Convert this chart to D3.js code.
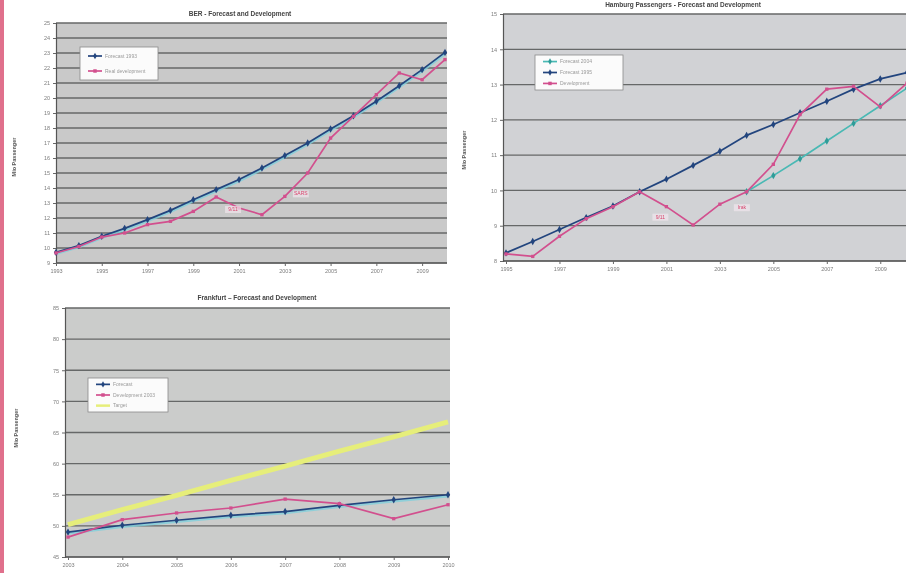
<!DOCTYPE html>
<html><head><meta charset="utf-8">
<script src="https://cdn.jsdelivr.net/npm/d3@7"></script>
<style>
body{margin:0;background:#fff;}
svg{display:block;font-family:"Liberation Sans",Arial,sans-serif;}
</style></head><body>
<svg id="c" width="906" height="573"></svg>
<script>
// ---- Berlin (BER) ----
const berYears = [1993,1994,1995,1996,1997,1998,1999,2000,2001,2002,2003,2004,2005,2006,2007,2008,2009,2010];
const berForecast = [9.71,10.16,10.78,11.31,11.89,12.51,13.22,13.89,14.56,15.33,16.16,17.0,17.93,18.82,19.78,20.82,21.89,23.04];
const berActual = [9.67,10.1,10.73,11.0,11.56,11.78,12.44,13.4,12.67,12.22,13.44,15.0,17.33,18.78,20.22,21.67,21.22,22.56];
const berYTicks = [9,10,11,12,13,14,15,16,17,18,19,20,21,22,23,24,25];
const berXTicks = [1993,1995,1997,1999,2001,2003,2005,2007,2009];

// ---- Hamburg ----
const hamYears = [1995,1996,1997,1998,1999,2000,2001,2002,2003,2004,2005,2006,2007,2008,2009,2010];
const hamForecastA = [null,null,null,null,null,null,null,null,null,9.96,10.42,10.9,11.4,11.9,12.4,12.9];
const hamForecastB = [8.23,8.55,8.89,9.23,9.56,9.96,10.32,10.71,11.11,11.56,11.87,12.2,12.53,12.87,13.16,13.34];
const hamActual = [8.2,8.13,8.7,9.2,9.54,9.96,9.54,9.02,9.61,9.96,10.74,12.15,12.87,12.95,12.37,13.04];
const hamYTicks = [8,9,10,11,12,13,14,15];
const hamXTicks = [1995,1997,1999,2001,2003,2005,2007,2009];

// ---- Frankfurt ----
const fraYears = [2003,2004,2005,2006,2007,2008,2009,2010];
const fraForecast = [49.0,50.1,50.9,51.7,52.3,53.3,54.2,55.0];
const fraActual = [48.2,51.0,52.07,52.87,54.3,53.57,51.16,53.4];
const fraTarget = [50.2,52.6,54.9,57.3,59.6,62.0,64.3,66.7];
const fraYTicks = [45,50,55,60,65,70,75,80,85];
const fraXTicks = [2003,2004,2005,2006,2007,2008,2009,2010];

const svg = d3.select('#c');

// soft focus of the scanned sheet
svg.append('defs').append('filter').attr('id','soft')
  .attr('x','-5%').attr('y','-5%').attr('width','110%').attr('height','110%')
  .append('feGaussianBlur').attr('stdDeviation',0.55);
const root = svg.append('g').attr('filter','url(#soft)');

// binder edge on the left of the sheet
root.append('rect').attr('x',0).attr('y',0).attr('width',4).attr('height',573).attr('fill','#e0708c');

const NAVY = '#23457e', PINK = '#d2508e', CYAN = '#49b9b4', YELLOW = '#e6ee7a';

function drawChart(cfg){
  const g = root.append('g');
  const x = d3.scaleLinear().domain([cfg.years[0], cfg.years[cfg.years.length-1]]).range(cfg.xr);
  const y = d3.scaleLinear().domain(cfg.yd).range(cfg.yr);
  const [px0, px1] = cfg.plotX;

  g.append('rect').attr('x',px0).attr('y',cfg.yr[1]).attr('width',px1-px0)
    .attr('height',cfg.yr[0]-cfg.yr[1]).attr('fill',cfg.bg);

  g.selectAll('line.grid').data(cfg.yTicks).join('line').attr('class','grid')
    .attr('x1',px0).attr('x2',px1).attr('y1',d=>y(d)).attr('y2',d=>y(d))
    .attr('stroke','#666767').attr('stroke-width',1.3);

  // axes
  const ya = g.append('g').attr('transform',`translate(${px0},0)`)
    .call(d3.axisLeft(y).tickValues(cfg.yTicks).tickSize(3).tickFormat(d3.format('d')));
  const xa = g.append('g').attr('transform',`translate(0,${cfg.yr[0]})`)
    .call(d3.axisBottom(x).tickValues(cfg.xTicks).tickSize(3).tickFormat(d3.format('d')));
  [ya,xa].forEach(a=>{
    a.select('.domain').attr('stroke','#555').attr('stroke-width',1.2);
    a.selectAll('.tick line').attr('stroke','#666');
    a.selectAll('text').attr('fill','#7d7d7d').attr('font-size',5.5);
  });
  xa.select('.domain').attr('d',`M${px0},0H${px1}`);

  const pts = vals => cfg.years.map((yr,i)=>({yr, v: vals[i]})).filter(d=>d.v!=null);
  const line = d3.line().x(d=>x(d.yr)).y(d=>y(d.v));

  cfg.series.forEach(s=>{
    const data = pts(s.values);
    if (s.halo) g.append('path').datum(data).attr('d',line).attr('fill','none')
      .attr('stroke',s.halo).attr('stroke-width',2.2).attr('transform','translate(0,1.6)').attr('opacity',0.8);
    g.append('path').datum(data).attr('d',line).attr('fill','none')
      .attr('stroke',s.color).attr('stroke-width',s.width||1.7);
    if (s.marker){
      g.selectAll(null).data(data).join('path')
        .attr('transform',d=>`translate(${x(d.yr)},${y(d.v)})`)
        .attr('d',d3.symbol().type(s.marker).size(s.msize||16))
        .attr('fill',s.mcolor||s.color);
    }
  });

  (cfg.notes||[]).forEach(n=>{
    const tx = x(n.yr)+n.dx, ty = y(n.v)+n.dy;
    g.append('rect').attr('x',tx-8).attr('y',ty-5).attr('width',16).attr('height',7)
      .attr('fill','#f1e6ec').attr('opacity',0.7);
    g.append('text').attr('x',tx).attr('y',ty).attr('text-anchor','middle')
      .attr('font-size',5).attr('fill','#d8466e').text(n.text);
  });

  // legend
  const L = cfg.legend;
  const lg = g.append('g').attr('transform',`translate(${L.x},${L.y})`);
  lg.append('rect').attr('width',L.w).attr('height',L.h).attr('fill','#fbfbfb')
    .attr('stroke','#8a8a8a').attr('stroke-width',0.8);
  const step = L.h/(cfg.series.length+0.2);
  cfg.series.forEach((s,i)=>{
    const yy = step*(i+0.6);
    lg.append('line').attr('x1',8).attr('x2',22).attr('y1',yy).attr('y2',yy)
      .attr('stroke',s.color).attr('stroke-width',s.legendWidth||1.7);
    if (s.marker) lg.append('path').attr('transform',`translate(15,${yy})`)
      .attr('d',d3.symbol().type(s.marker).size(12)).attr('fill',s.mcolor||s.color);
    lg.append('text').attr('x',25).attr('y',yy+1.8).attr('font-size',5).attr('fill','#9a9a9a').text(s.name);
  });

  g.append('text').attr('x',cfg.title.x).attr('y',cfg.title.y).attr('text-anchor','middle')
    .attr('font-size',6.5).attr('font-weight','bold').attr('fill','#444').text(cfg.title.text);
  g.append('text').attr('transform',`translate(${cfg.ytitle.x},${cfg.ytitle.y}) rotate(-90)`)
    .attr('text-anchor','middle').attr('font-size',5.5).attr('font-weight','bold').attr('fill','#555')
    .text('Mio Passenger');
}

drawChart({
  years: berYears, xr:[56,445], plotX:[56,447], yd:[9,25], yr:[263,23], bg:'#c9c9c9',
  yTicks: berYTicks, xTicks: berXTicks,
  series:[
    {name:'Forecast 1993', values:berForecast, color:NAVY, halo:'#7fd0dc', marker:d3.symbolDiamond},
    {name:'Real development', values:berActual, color:PINK, marker:d3.symbolSquare, msize:11}
  ],
  notes:[{text:'9/11', yr:2001, v:12.67, dx:-6, dy:3},{text:'SARS', yr:2003, v:13.44, dx:16, dy:-1}],
  legend:{x:80,y:47,w:78,h:33},
  title:{text:'BER - Forecast and Development', x:240, y:16},
  ytitle:{x:16, y:157}
});

drawChart({
  years: hamYears, xr:[506,907], plotX:[503,910], yd:[8,15], yr:[261,14], bg:'#d1d2d5',
  yTicks: hamYTicks, xTicks: hamXTicks,
  series:[
    {name:'Forecast 2004', values:hamForecastA, color:CYAN, marker:d3.symbolDiamond, mcolor:'#2f9c98'},
    {name:'Forecast 1995', values:hamForecastB, color:NAVY, marker:d3.symbolDiamond},
    {name:'Development', values:hamActual, color:PINK, marker:d3.symbolSquare, msize:11}
  ],
  notes:[{text:'9/11', yr:2001, v:9.54, dx:-6, dy:12},{text:'Irak', yr:2003, v:9.61, dx:22, dy:5}],
  legend:{x:535,y:55,w:88,h:35},
  title:{text:'Hamburg Passengers - Forecast and Development', x:683, y:7},
  ytitle:{x:466, y:150}
});

drawChart({
  years: fraYears, xr:[68,448], plotX:[65,450], yd:[45,85], yr:[557,308], bg:'#cbcccb',
  yTicks: fraYTicks, xTicks: fraXTicks,
  series:[
    {name:'Forecast', values:fraForecast, color:NAVY, halo:'#7fd0dc', marker:d3.symbolDiamond},
    {name:'Development 2003', values:fraActual, color:PINK, marker:d3.symbolSquare, msize:11},
    {name:'Target', values:fraTarget, color:YELLOW, width:5, legendWidth:2.5}
  ],
  legend:{x:88,y:378,w:80,h:34},
  title:{text:'Frankfurt – Forecast and Development', x:257, y:300},
  ytitle:{x:18, y:428}
});
</script>
</body></html>
